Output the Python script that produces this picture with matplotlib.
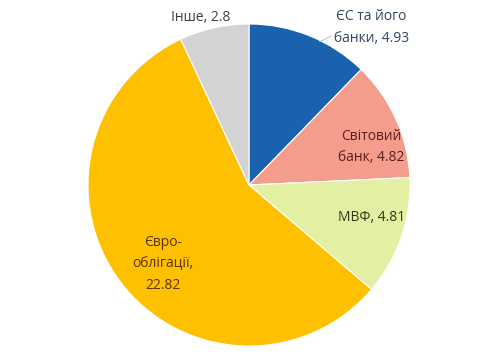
import matplotlib
matplotlib.use("Agg")
import matplotlib.pyplot as plt

labels = ["ЄС та його\nбанки, 4.93", "Світовий\nбанк, 4.82", "МВФ, 4.81", "Євро-\nоблігації,\n22.82", "Інше, 2.8"]
values = [4.93, 4.82, 4.81, 22.82, 2.8]
colors = ["#1A62AD", "#F59D8C", "#E3F0A3", "#FFC000", "#D3D3D3"]
text_colors = ["#2F4560", "#5A1E1E", "#2F3A12", "#5A3405", "#404040"]
# label positions in pie units (radius = 1)
label_pos = [(0.76, 0.98), (0.76, 0.236), (0.76, -0.20), (-0.534, -0.49), (-0.30, 1.04)]

plt.rcParams['font.family'] = ['Open Sans', 'DejaVu Sans']
fig = plt.figure(figsize=(5, 3.57), dpi=100)
r = 161
cx, cy = 249, 185
ax = fig.add_axes([(cx - r) / 500, (357 - cy - r) / 357, 2 * r / 500, 2 * r / 357])
wedges, _ = ax.pie(values, colors=colors, startangle=90, counterclock=False,
                   wedgeprops=dict(linewidth=0.8, edgecolor="white"), radius=1)
ax.set_xlim(-1, 1)
ax.set_ylim(-1, 1)
ax.set_aspect('equal')
ax.axis('off')

for lab, (x, y), c in zip(labels, label_pos, text_colors):
    ax.text(x, y, lab, ha='center', va='center', fontsize=10, color=c,
            linespacing=1.6, clip_on=False)

# faint leader line for the outside EU label
ax.plot([0.44, 0.51], [0.89, 0.925], color="#a9bccf", lw=0.6, clip_on=False)

fig.savefig("out.png", dpi=100)
